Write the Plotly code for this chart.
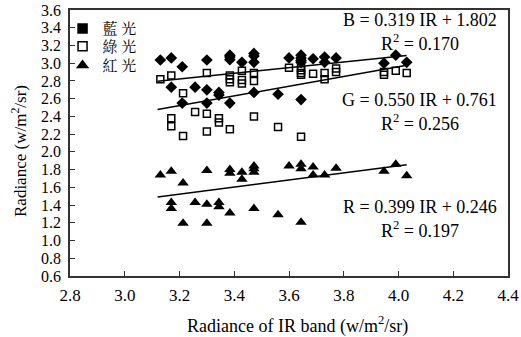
import plotly.graph_objects as go

# Blue light (diamonds)
blue_x = [3.13, 3.17, 3.21, 3.30, 3.384, 3.384, 3.384, 3.428, 3.472, 3.472, 3.472,
          3.60, 3.644, 3.644, 3.644, 3.644, 3.688, 3.73, 3.73, 3.772, 3.947, 3.99, 4.03,
          3.17, 3.21, 3.257, 3.30, 3.344, 3.344, 3.30, 3.384, 3.472, 3.56, 3.644]
blue_y = [3.036, 3.06, 2.96, 3.036, 3.09, 3.07, 3.04, 3.01, 3.11, 3.08, 3.01,
          3.06, 3.09, 3.06, 3.03, 3.01, 3.05, 3.07, 3.01, 3.06, 3.00, 3.09, 3.01,
          2.73, 2.55, 2.73, 2.70, 2.67, 2.64, 2.55, 2.55, 2.67, 2.65, 2.59]

# Green light (open squares)
green_x = [3.13, 3.17, 3.30, 3.384, 3.384, 3.384, 3.428, 3.428, 3.428, 3.472, 3.472,
           3.60, 3.644, 3.644, 3.644, 3.644, 3.688, 3.73, 3.73, 3.772, 3.772, 3.947, 3.947,
           3.99, 4.03,
           3.213, 3.17, 3.17, 3.257, 3.30, 3.344, 3.344, 3.213, 3.30, 3.384, 3.472, 3.56, 3.644]
green_y = [2.82, 2.86, 2.89, 2.86, 2.82, 2.785, 2.915, 2.81, 2.77, 2.89, 2.80,
           2.95, 2.95, 2.92, 2.89, 2.87, 2.88, 2.89, 2.82, 2.94, 2.90, 2.90, 2.87,
           2.915, 2.89,
           2.66, 2.38, 2.29, 2.45, 2.43, 2.38, 2.33, 2.18, 2.23, 2.255, 2.40, 2.28, 2.17]

# Red light (triangles)
red_x = [3.13, 3.17, 3.213, 3.30, 3.384, 3.384, 3.428, 3.428, 3.472, 3.472, 3.472,
         3.60, 3.644, 3.644, 3.688, 3.688, 3.73, 3.772, 3.947, 3.99, 4.03,
         3.17, 3.17, 3.257, 3.30, 3.344, 3.344, 3.384, 3.472, 3.56, 3.213, 3.30, 3.644]
red_y = [1.74, 1.78, 1.65, 1.79, 1.80, 1.76, 1.77, 1.69, 1.84, 1.81, 1.77,
         1.84, 1.86, 1.81, 1.83, 1.74, 1.74, 1.815, 1.78, 1.86, 1.73,
         1.43, 1.36, 1.43, 1.41, 1.43, 1.38, 1.31, 1.36, 1.29, 1.195, 1.195, 1.206]

# Regression lines (slope, intercept, R^2) and x extent
fit_names = ["B", "G", "R"]
fit_slopes = [0.319, 0.550, 0.399]
fit_intercepts = [1.802, 0.761, 0.246]
fit_r2 = [0.170, 0.256, 0.197]
fit_x = [3.12, 4.03]

legend_names = ["藍 光", "綠 光", "紅 光"]

font_fam = "Liberation Serif, Times New Roman, Noto Serif CJK TC, Noto Sans CJK TC, serif"

fig = go.Figure()

fig.add_trace(go.Scatter(x=blue_x, y=blue_y, mode="markers", showlegend=False,
                         marker=dict(symbol="diamond", size=9, color="black")))
fig.add_trace(go.Scatter(x=green_x, y=green_y, mode="markers", showlegend=False,
                         marker=dict(symbol="square-open", size=7, color="black",
                                     line=dict(width=1.5, color="black"))))
fig.add_trace(go.Scatter(x=red_x, y=red_y, mode="markers", showlegend=False,
                         marker=dict(symbol="triangle-up", size=10, color="black")))

for s, b in zip(fit_slopes, fit_intercepts):
    fig.add_trace(go.Scatter(x=fit_x, y=[s * v + b for v in fit_x], mode="lines",
                             showlegend=False, line=dict(color="black", width=1.5)))

# legend entries, one small legend per row for tight spacing
leg_symbols = ["square", "square-open", "triangle-up"]
leg_ids = ["legend", "legend2", "legend3"]
leg_y = [0.992, 0.925, 0.853]
for name, sym, lid in zip(legend_names, leg_symbols, leg_ids):
    fig.add_trace(go.Scatter(x=[None], y=[None], mode="markers", name=name, legend=lid,
                             marker=dict(symbol=sym, size=9, color="black",
                                         line=dict(width=1.5, color="black"))))

# equation annotations (centre x, eq y, R2 y) in data units
eq_cx = 4.078
eq_pos = [(3.487, 3.228), (2.585, 2.326), (1.378, 1.130)]
for name, s, b, r2, (ye, yr) in zip(fit_names, fit_slopes, fit_intercepts, fit_r2, eq_pos):
    fig.add_annotation(x=eq_cx, y=ye, xref="x", yref="y", xanchor="center", yanchor="middle",
                       text=f"{name} = {s:.3f} IR + {b:.3f}", showarrow=False,
                       font=dict(size=18, color="black", family=font_fam))
    fig.add_annotation(x=eq_cx, y=yr, xref="x", yref="y", xanchor="center", yanchor="middle",
                       text=f"R<sup>2</sup> = {r2:.3f}", showarrow=False,
                       font=dict(size=18, color="black", family=font_fam))

# axis titles
fig.add_annotation(x=0.5, y=0, xref="paper", yref="paper", xanchor="center", yanchor="middle",
                   yshift=-49, xshift=8, showarrow=False,
                   text="Radiance of IR band (w/m<sup>2</sup>/sr)",
                   font=dict(size=18, color="black", family=font_fam))
fig.add_annotation(x=0, y=0.5, xref="paper", yref="paper", xanchor="center", yanchor="middle",
                   xshift=-51, yshift=-8, textangle=-90, showarrow=False,
                   text="Radiance (w/m<sup>2</sup>/sr)",
                   font=dict(size=17, color="black", family=font_fam))

axis_common = dict(showgrid=False, zeroline=False, showline=True, linecolor="#333",
                   linewidth=1.5, mirror=True, ticks="inside", ticklen=5, tickwidth=1,
                   tickcolor="#333", tickformat=".1f", automargin=False)

fig.update_xaxes(range=[2.8, 4.4], dtick=0.2, tick0=2.8, ticklabelstandoff=3,
                 tickfont=dict(size=17, color="black", family=font_fam), **axis_common)
fig.update_yaxes(range=[0.6, 3.6], dtick=0.2, tick0=0.6, ticklabelstandoff=4,
                 tickfont=dict(size=16, color="black", family=font_fam), **axis_common)

legend_common = dict(x=-0.017, xanchor="left", yanchor="top", bgcolor="rgba(0,0,0,0)",
                     font=dict(size=15, color="black", family=font_fam), itemwidth=30)

fig.update_layout(
    width=521, height=337,
    margin=dict(l=70, r=13, t=10, b=61),
    plot_bgcolor="white", paper_bgcolor="white",
    legend=dict(y=leg_y[0], **legend_common),
    legend2=dict(y=leg_y[1], **legend_common),
    legend3=dict(y=leg_y[2], **legend_common),
)

fig.write_html("out.html", config={"displayModeBar": False},
               post_script="document.body.style.margin='0';document.body.style.overflow='hidden';")
